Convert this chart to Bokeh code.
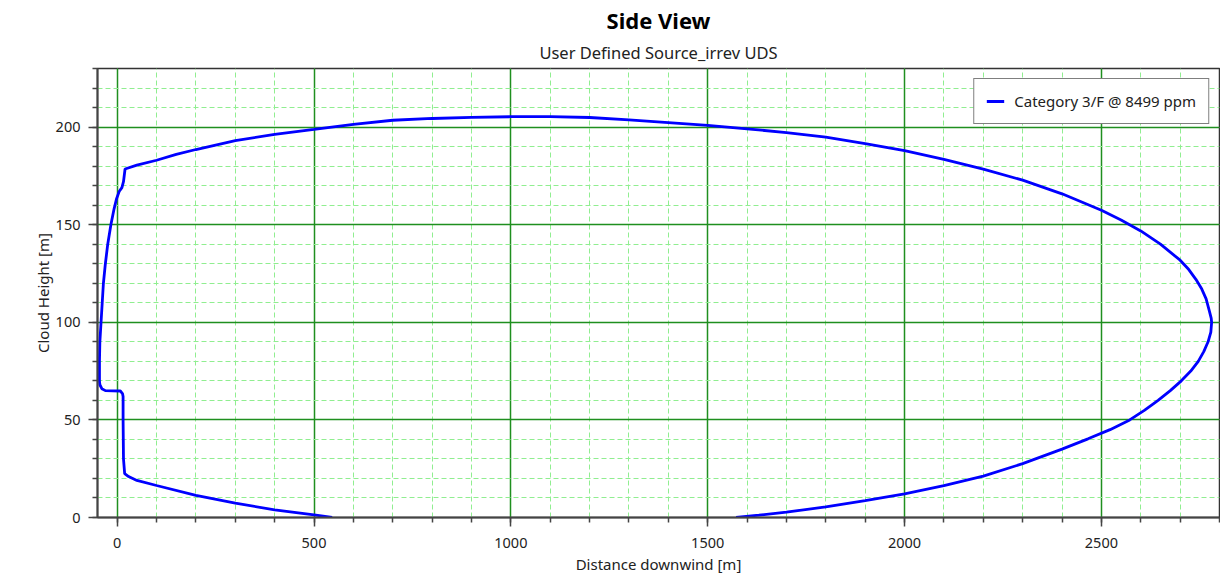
from bokeh.plotting import figure
from bokeh.models import Title, Range1d, SingleIntervalTicker, Legend, LegendItem
from bokeh.embed import file_html
from bokeh.resources import INLINE

# Cloud outline (side view)
distance_m = [546, 500, 400, 300, 200, 100, 50, 29, 19, 16, 15, 15, 13.5, 8, -30, -39, -44, -45,
              -45, -44, -41, -38, -35, -30, -24, -16, -8, -2, 5, 12, 16, 20,
              50, 100, 150, 200, 300, 400, 500, 600, 700, 800, 900, 1000, 1100, 1200, 1300, 1400,
              1500, 1600, 1700, 1800, 1900, 2000, 2100, 2200, 2300, 2400, 2500, 2550, 2600,
              2650, 2700, 2722, 2740, 2755, 2766, 2774, 2779, 2780, 2778, 2771, 2760, 2746,
              2727, 2703, 2675, 2644, 2610, 2572, 2522, 2466, 2400, 2300, 2200, 2100,
              2000, 1900, 1800, 1700, 1630, 1572]
height_m = [0, 1.4, 3.9, 7.4, 11.3, 16.4, 19, 21, 22.5, 30, 50, 62, 63.5, 64.8, 65, 66, 68, 70,
            80, 90, 100, 110, 120, 130, 140, 150, 158, 163, 167, 169, 172, 178.5,
            180.5, 183, 186, 188.5, 193, 196.3, 198.8, 201.4, 203.5, 204.4, 205, 205.3, 205.3,
            204.9, 203.7, 202.3, 200.9, 199.1, 197.2, 194.8, 191.5, 187.9, 183.4, 178.5, 172.8,
            165.8, 157.4, 152.4, 146.8, 140, 131.8, 127, 122, 117, 112, 106, 102, 100, 95,
            90, 85, 80, 75, 70, 65, 60, 55, 50, 45, 40.3, 35, 27.6, 21.2, 16.3,
            12.1, 8.7, 5.5, 2.7, 1.2, 0]
series_label = "Category 3/F @ 8499 ppm"
title_text = "Side View"
subtitle_text = "User Defined Source_irrev UDS"
x_label = "Distance downwind [m]"
y_label = "Cloud Height [m]"

FONT = "Noto Sans"

p = figure(width=1220, height=576, x_range=Range1d(-50, 2800), y_range=Range1d(0, 230),
           output_backend="svg", toolbar_location=None, title=None,
           min_border_left=97, min_border_right=1, min_border_top=68, min_border_bottom=59)
p.background_fill_color = "white"
p.border_fill_color = "white"
p.outline_line_color = "#333333"
p.outline_line_width = 1.5

p.add_layout(Title(text=subtitle_text, align="center", text_font_size="16.5px",
                   text_font_style="normal", text_font=FONT, text_color="#222222",
                   standoff=9), "above")
p.add_layout(Title(text=title_text, align="center", text_font_size="22px",
                   text_font_style="bold", text_font=FONT, text_color="#000000",
                   standoff=0), "above")

p.xaxis.ticker = SingleIntervalTicker(interval=500, num_minor_ticks=5)
p.yaxis.ticker = SingleIntervalTicker(interval=50, num_minor_ticks=5)

for ax in (p.xaxis, p.yaxis):
    ax.axis_line_color = "#444444"
    ax.axis_line_width = 2
    ax.major_tick_line_color = "#444444"
    ax.major_tick_line_width = 1.5
    ax.minor_tick_line_color = "#444444"
    ax.minor_tick_line_width = 1.5
    ax.major_tick_in = 0
    ax.minor_tick_in = 0
    ax.major_tick_out = 9
    ax.minor_tick_out = 5
    ax.major_label_text_font = FONT
    ax.major_label_text_font_size = "14.5px"
    ax.major_label_text_color = "#222222"
    ax.axis_label_text_font = FONT
    ax.axis_label_text_font_size = "15px"
    ax.axis_label_text_font_style = "normal"
    ax.axis_label_text_color = "#222222"

p.xaxis.axis_label = x_label
p.yaxis.axis_label = y_label
p.xaxis.major_label_standoff = 11
p.xaxis.axis_label_standoff = 3
p.yaxis.major_label_standoff = 8
p.yaxis.axis_label_standoff = 0

p.xgrid.grid_line_color = "#1f8f1f"
p.ygrid.grid_line_color = "#1f8f1f"
p.xgrid.grid_line_width = 1.5
p.ygrid.grid_line_width = 1.5
p.xgrid.minor_grid_line_color = "#90ee90"
p.ygrid.minor_grid_line_color = "#90ee90"
p.xgrid.minor_grid_line_dash = "5 3"
p.ygrid.minor_grid_line_dash = "5 3"
p.xgrid.minor_grid_line_width = 1
p.ygrid.minor_grid_line_width = 1

r = p.line(distance_m, height_m, line_color="#0000ff", line_width=2.8)

legend = Legend(items=[LegendItem(label=series_label, renderers=[r])], location="top_right",
                border_line_color="#000000", border_line_width=1, background_fill_alpha=1,
                label_text_font=FONT, label_text_font_size="15px", label_text_color="#222222",
                glyph_width=18, glyph_height=20, label_height=20, label_standoff=10,
                padding=12, margin=10)
p.add_layout(legend)

open("out.html", "w").write(file_html(p, INLINE))
